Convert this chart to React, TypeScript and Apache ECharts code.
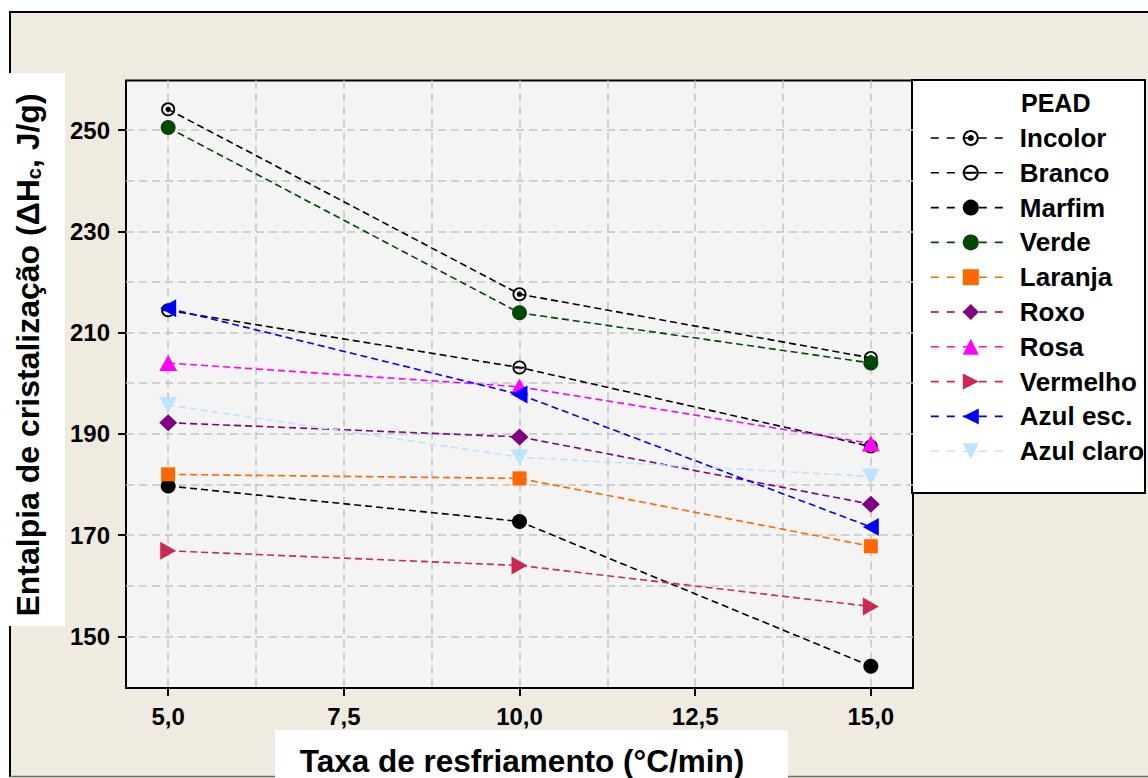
import React, { useEffect, useRef } from 'react';
import * as echarts from 'echarts';

// ---- data ----
const rates = [5, 10, 15];
const seriesNames = ['Incolor', 'Branco', 'Marfim', 'Verde', 'Laranja', 'Roxo', 'Rosa', 'Vermelho', 'Azul esc.', 'Azul claro'];
const incolor = [254.1, 217.6, 205.0];
const branco = [214.4, 203.1, 187.5];
const marfim = [179.7, 172.7, 144.1];
const verde = [250.5, 213.9, 204.0];
const laranja = [182.0, 181.2, 167.8];
const roxo = [192.2, 189.4, 176.1];
const rosa = [204.0, 199.3, 188.1];
const vermelho = [166.9, 164.0, 155.9];
const azulEsc = [214.8, 197.8, 171.6];
const azulClaro = [195.7, 185.4, 181.6];
const seriesValues = [incolor, branco, marfim, verde, laranja, roxo, rosa, vermelho, azulEsc, azulClaro];
const xTickLabels = [5, 7.5, 10, 12.5, 15];
const xGridValues = [5, 6.25, 7.5, 8.75, 10, 11.25, 12.5, 13.75, 15];
const yTickLabels = [150, 170, 190, 210, 230, 250];
const yGridValues = [150, 160, 170, 180, 190, 200, 210, 220, 230, 240, 250];

// ---- symbols ----
function circ(cx: number, cy: number, r: number, cw: boolean): string {
  const k = 0.5523 * r;
  if (cw) {
    return `M${cx + r} ${cy}C${cx + r} ${cy + k} ${cx + k} ${cy + r} ${cx} ${cy + r}C${cx - k} ${cy + r} ${cx - r} ${cy + k} ${cx - r} ${cy}C${cx - r} ${cy - k} ${cx - k} ${cy - r} ${cx} ${cy - r}C${cx + k} ${cy - r} ${cx + r} ${cy - k} ${cx + r} ${cy}Z`;
  }
  return `M${cx + r} ${cy}C${cx + r} ${cy - k} ${cx + k} ${cy - r} ${cx} ${cy - r}C${cx - k} ${cy - r} ${cx - r} ${cy - k} ${cx - r} ${cy}C${cx - r} ${cy + k} ${cx - k} ${cy + r} ${cx} ${cy + r}C${cx + k} ${cy + r} ${cx + r} ${cy + k} ${cx + r} ${cy}Z`;
}
const incolorSymbol = 'path://' + circ(10, 10, 10, true) + circ(10, 10, 7.4, false) + circ(10, 10, 3.8, true);
const brancoSymbol = 'path://' + circ(10, 10, 10, true) + circ(10, 10, 7.4, false) + 'M3 8.8L17 8.8L17 11.2L3 11.2Z';

const styles: any[] = [
  { color: '#000000', symbol: incolorSymbol, size: 14, rotate: 0 },
  { color: '#000000', symbol: brancoSymbol, size: 14, rotate: 0 },
  { color: '#000000', symbol: 'circle', size: 15, rotate: 0 },
  { color: '#004800', symbol: 'circle', size: 15, rotate: 0 },
  { color: '#FF6600', symbol: 'rect', size: 14, rotate: 0 },
  { color: '#800080', symbol: 'diamond', size: [18, 17], rotate: 0 },
  { color: '#FF00FF', symbol: 'triangle', size: [18, 16], rotate: 0 },
  { color: '#CC2952', symbol: 'triangle', size: [18, 16], rotate: -90 },
  { color: '#0000FF', symbol: 'triangle', size: [18, 16], rotate: 90 },
  { color: '#BEE3FF', symbol: 'triangle', size: [18, 16], rotate: 180 },
];

const FONT = "'Liberation Sans', Arial, Helvetica, sans-serif";
const fmtX = (v: number) => v.toFixed(1).replace('.', ',');

export default function App() {
  const ref = useRef<HTMLDivElement>(null);
  useEffect(() => {
    if (!ref.current) return;
    const chart = echarts.init(ref.current, null, { renderer: 'svg' });
    const X_MIN = 4.4, X_MAX = 15.6, Y_MIN = 139.8, Y_MAX = 259.8;
    const series = seriesNames.map((name, i) => ({
      name,
      type: 'line',
      xAxisIndex: 0,
      yAxisIndex: 0,
      data: rates.map((r, j) => [r, seriesValues[i][j]]),
      symbol: styles[i].symbol,
      symbolSize: styles[i].size,
      symbolRotate: styles[i].rotate,
      showSymbol: true,
      itemStyle: { color: styles[i].color, opacity: 1 },
      lineStyle: { color: styles[i].color, width: 1.6, type: [7, 4] },
      emphasis: { disabled: true },
      z: 2 + i * 0.01,
    }));
    const option: any = {
      animation: false,
      backgroundColor: '#EFEBE1',
      grid: {
        left: 126,
        top: 80.5,
        width: 787,
        height: 607.5,
        show: true,
        backgroundColor: '#F4F4F4',
        borderColor: '#000000',
        borderWidth: 2,
        containLabel: false,
      },
      xAxis: [
        {
          type: 'value', min: X_MIN, max: X_MAX,
          axisLine: { show: false },
          axisTick: { show: false, customValues: xGridValues },
          axisLabel: { show: false },
          splitLine: { show: true, lineStyle: { color: '#C4C4C4', width: 1.5, type: [8, 5] } },
        },
        {
          type: 'value', min: X_MIN, max: X_MAX, position: 'bottom',
          axisLine: { show: false },
          axisTick: { show: true, inside: false, length: 8, customValues: xTickLabels, lineStyle: { color: '#000', width: 2 } },
          axisLabel: {
            show: true, customValues: xTickLabels, margin: 16, formatter: fmtX,
            fontFamily: FONT, fontWeight: 'bold', fontSize: 24, color: '#000',
          },
          splitLine: { show: false },
        },
      ],
      yAxis: [
        {
          type: 'value', min: Y_MIN, max: Y_MAX,
          axisLine: { show: false },
          axisTick: { show: false, customValues: yGridValues },
          axisLabel: { show: false },
          splitLine: { show: true, lineStyle: { color: '#C4C4C4', width: 1.5, type: [8, 5] } },
        },
        {
          type: 'value', min: Y_MIN, max: Y_MAX, position: 'left',
          axisLine: { show: false },
          axisTick: { show: true, inside: false, length: 8, customValues: yTickLabels, lineStyle: { color: '#000', width: 2 } },
          axisLabel: {
            show: true, customValues: yTickLabels, margin: 16,
            fontFamily: FONT, fontWeight: 'bold', fontSize: 24, color: '#000',
          },
          splitLine: { show: false },
        },
      ],
      legend: {
        orient: 'vertical',
        left: 925,
        top: 120,
        itemWidth: 80,
        itemHeight: 20,
        itemGap: 8.8,
        data: seriesNames,
        selectedMode: false,
        lineStyle: { type: [8, 8], width: 1.6 },
        textStyle: {
          fontFamily: FONT, fontWeight: 'bold', fontSize: 26, color: '#000',
          padding: [0, 0, 0, 4],
        },
      },
      graphic: [
        { type: 'rect', shape: { x: 0, y: 0, width: 1148, height: 12 }, style: { fill: '#FFFFFF' } },
        { type: 'rect', shape: { x: 0, y: 0, width: 10, height: 778 }, style: { fill: '#FFFFFF' } },
        { type: 'line', shape: { x1: 9, y1: 12, x2: 1148, y2: 12 }, style: { stroke: '#000', lineWidth: 2 } },
        { type: 'line', shape: { x1: 10, y1: 11, x2: 10, y2: 777 }, style: { stroke: '#000', lineWidth: 2 } },
        { type: 'line', shape: { x1: 10, y1: 776.5, x2: 1148, y2: 776.5 }, style: { stroke: '#6E6E6E', lineWidth: 1.5 } },
        { type: 'rect', shape: { x: 0, y: 73, width: 65, height: 553 }, style: { fill: '#FFFFFF' } },
        { type: 'rect', shape: { x: 275, y: 730, width: 513, height: 48 }, style: { fill: '#FFFFFF' } },
        { type: 'rect', shape: { x: 912, y: 80, width: 233, height: 413 }, style: { fill: '#FFFFFF', stroke: '#000', lineWidth: 2 } },
        {
          type: 'text', x: 1021, y: 103,
          style: { text: 'PEAD', fill: '#000', font: `bold 25px ${FONT}`, textAlign: 'left', textVerticalAlign: 'middle', verticalAlign: 'middle' },
        },
        {
          type: 'text', x: 522, y: 761,
          style: { text: 'Taxa de resfriamento (°C/min)', fill: '#000', font: `bold 31.5px ${FONT}`, textAlign: 'center', textVerticalAlign: 'middle', verticalAlign: 'middle' },
        },
        {
          type: 'text', x: 28, y: 355, rotation: Math.PI / 2,
          style: {
            text: '{a|Entalpia de cristalização (ΔH}{b|c}{a|, J/g)}',
            fill: '#000',
            textAlign: 'center', verticalAlign: 'middle', textVerticalAlign: 'middle',
            rich: {
              a: { fontFamily: FONT, fontWeight: 'bold', fontSize: 32, fill: '#000', lineHeight: 32 },
              b: { fontFamily: FONT, fontWeight: 'bold', fontSize: 20, fill: '#000', lineHeight: 20, verticalAlign: 'bottom' },
            },
          },
        },
      ],
      series,
    };
    chart.setOption(option);
    return () => chart.dispose();
  }, []);
  return <div ref={ref} style={{ position: 'absolute', left: 0, top: 0, width: 1148, height: 778 }} />;
}
